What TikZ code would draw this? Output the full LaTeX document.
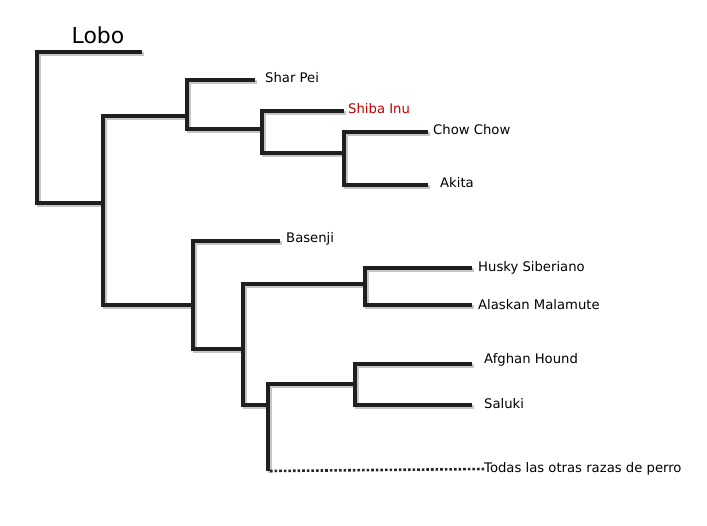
\documentclass[tikz,border=0pt]{standalone}
\usepackage{fontspec}
\setmainfont{DejaVu Sans}
\tikzset{
  branch/.style={line width=3.2pt, color=black!88, line cap=square,
    preaction={draw=gray!45, line width=3.6pt, transform canvas={shift={(1.8pt,-2pt)}}}},
  rest/.style={line width=2.6pt, dotted, color=black!85},
  breed/.style={anchor=west, font=\fontsize{13.2}{16}\selectfont, inner sep=0pt}
}
\begin{document}
\begin{tikzpicture}[x=1pt, y=-1pt]
\useasboundingbox (0,0) rectangle (707,526);
% junctions
\coordinate (R) at (37,52);
\coordinate (A) at (103,116);
\coordinate (B) at (187,80);
\coordinate (C) at (262,111);
\coordinate (D) at (344,132);
\coordinate (E) at (193,241);
\coordinate (F) at (243,284);
\coordinate (G) at (365,268);
\coordinate (H) at (268,384);
\coordinate (I) at (355,364);
% leaves
\node (lobo) at (98,35) [font=\fontsize{22}{26}\selectfont] {Lobo};
\node[breed] (sharpei) at (265,78) {Shar Pei};
\node[breed, text=red!75!black] (shiba) at (348,109) {Shiba Inu};
\node[breed] (chow) at (433,130) {Chow Chow};
\node[breed] (akita) at (440,183) {Akita};
\node[breed] (basenji) at (286,239) {Basenji};
\node[breed] (husky) at (478,268) {Husky Siberiano};
\node[breed] (malamute) at (478,305) {Alaskan Malamute};
\node[breed] (afghan) at (484,360) {Afghan Hound};
\node[breed] (saluki) at (484,404) {Saluki};
\node[breed] (otras) at (484,469) {Todas las otras razas de perro};
% tree
\draw[branch] (142,52) -- (R) -- (37,203) -- (103,203);
\draw[branch] (187,116) -- (A) -- (103,305) -- (193,305);
\draw[branch] (255,80) -- (B) -- (187,129) -- (262,129);
\draw[branch] (344,111) -- (C) -- (262,153) -- (344,153);
\draw[branch] (428,132) -- (D) -- (344,185) -- (428,185);
\draw[branch] (280,241) -- (E) -- (193,349) -- (243,349);
\draw[branch] (365,284) -- (F) -- (243,405) -- (268,405);
\draw[branch] (472,268) -- (G) -- (365,305) -- (472,305);
\draw[branch] (355,384) -- (H) -- (268,471);
\draw[branch] (472,364) -- (I) -- (355,405) -- (472,405);
\draw[rest] (270,471) -- (otras.west);
\end{tikzpicture}
\end{document}
